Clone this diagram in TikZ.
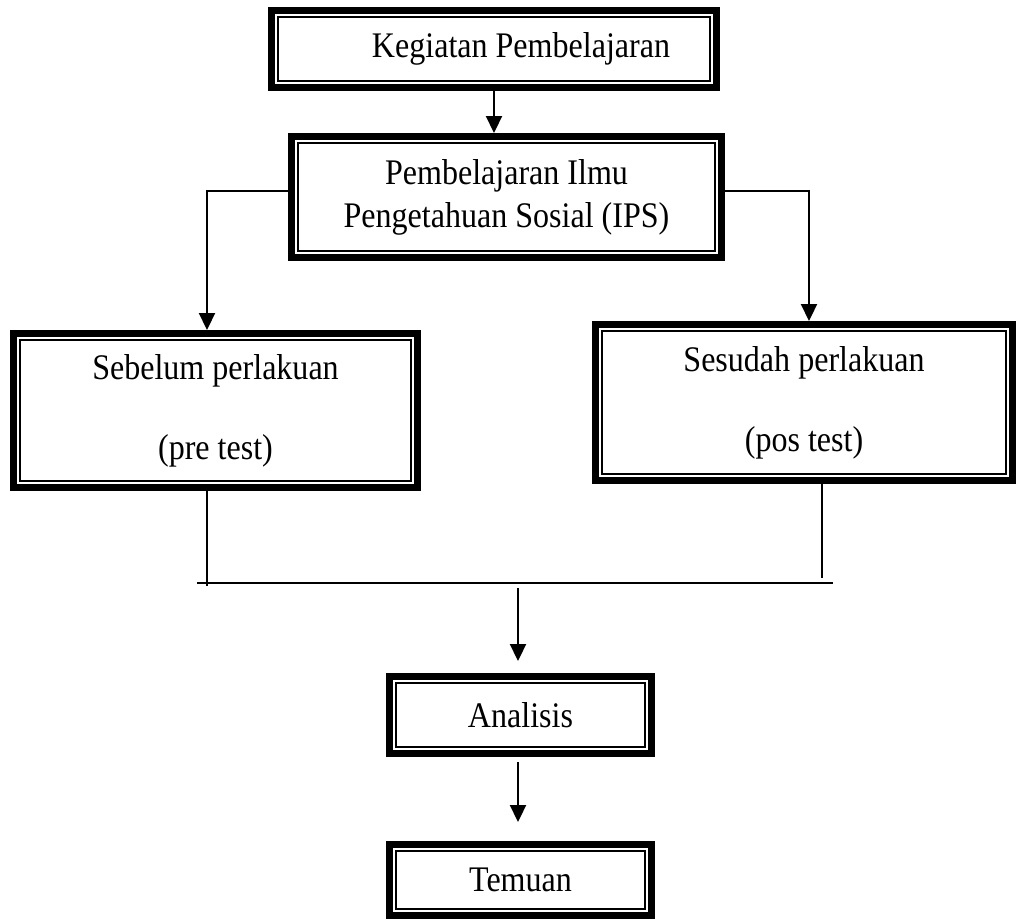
\documentclass[tikz,border=0pt]{standalone}
\usepackage{fontspec}
\setmainfont{Liberation Serif}[FakeStretch=0.89]
\usetikzlibrary{arrows.meta,calc}
\tikzset{
  dbox/.style={draw=black, line width=7pt, fill=white, inner sep=0pt, align=center,
    font=\fontsize{36}{43}\selectfont,
    path picture={\draw[line width=1.8pt]
      ([shift={(6.5pt,6.5pt)}]path picture bounding box.south west) rectangle
      ([shift={(-6.5pt,-6.5pt)}]path picture bounding box.north east);}},
  conn/.style={line width=2.2pt},
  arr/.style={conn, -{Triangle[width=16pt,length=17pt]}},
}
\begin{document}
\begin{tikzpicture}[x=1pt,y=-1pt]
\useasboundingbox (0,0) rectangle (1016,919);
% boxes
\node[dbox, minimum width=445pt, minimum height=77pt] (b1) at (494,49)
  {\hspace*{54pt}Kegiatan Pembelajaran};
\node[dbox, minimum width=430pt, minimum height=121pt] (b2) at (506.5,197)
  {Pembelajaran Ilmu\\Pengetahuan Sosial (IPS)};
\node[dbox, minimum width=404pt, minimum height=154pt] (b3) at (215.5,410.5)
  {Sebelum perlakuan\\[37pt](pre test)};
\node[dbox, minimum width=417pt, minimum height=156pt] (b4) at (804,402.5)
  {Sesudah perlakuan\\[37pt](pos test)};
\node[dbox, minimum width=262pt, minimum height=77pt] (an) at (520.5,715)
  {Analisis};
\node[dbox, minimum width=262pt, minimum height=71pt] (te) at (520.5,880)
  {Temuan};
% helper coordinates
\coordinate (lx) at (207,0);
\coordinate (rx) at (809,0);
\coordinate (rx2) at (822,0);
\coordinate (l3) at (207,586);
\coordinate (r4) at (822,578);
\coordinate (hl) at (197,583);
\coordinate (hr) at (833,583);
\coordinate (ms) at (518,588);
% connectors
\draw[arr] (b1.south) -- (b1.south |- b2.north);
\draw[arr] ([yshift=6pt]b2.west) -| (lx |- b3.north);
\draw[arr] ([yshift=6pt]b2.east) -| (rx |- b4.north);
\draw[conn] (lx |- b3.south) -- (l3);
\draw[conn] (rx2 |- b4.south) -- (r4);
\draw[conn] (hl) -- (hr);
\draw[arr, shorten >=12pt] (ms) -- (ms |- an.north);
\draw[arr, shorten <=5pt, shorten >=19pt] (ms |- an.south) -- (ms |- te.north);
\end{tikzpicture}
\end{document}
